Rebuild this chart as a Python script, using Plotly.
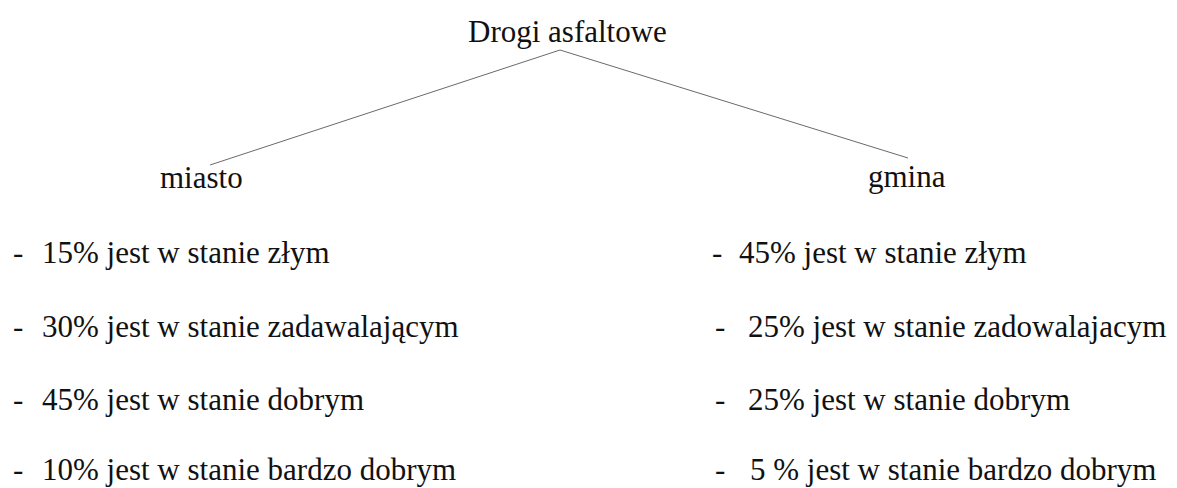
import plotly.graph_objects as go

title = "Drogi asfaltowe"
branches = ["miasto", "gmina"]
conditions_miasto = ["złym", "zadawalającym", "dobrym", "bardzo dobrym"]
conditions_gmina = ["złym", "zadowalajacym", "dobrym", "bardzo dobrym"]
miasto_pct = [15, 30, 45, 10]
gmina_pct = [45, 25, 25, 5]

W, H = 1177, 488
FONT = "Liberation Serif, Times New Roman, serif"
SIZE = 31

fig = go.Figure()

apex = (560, 50)
ends = [(210, 165), (908, 158)]
for e in ends:
    fig.add_trace(go.Scatter(x=[apex[0], e[0]], y=[apex[1], e[1]], mode="lines",
                             line=dict(color="#6a6a6a", width=1), hoverinfo="skip",
                             showlegend=False))


def ann(x, y, text, anchor="left"):
    fig.add_annotation(x=x, y=y, text=text, showarrow=False, xanchor=anchor,
                       yanchor="middle", borderpad=0,
                       font=dict(family=FONT, size=SIZE, color="#111111"))


ann(567, 31.5, title, "center")
ann(159, 177.5, branches[0], "left")
ann(867, 176.5, branches[1], "left")

rows_y = [252.5, 326.5, 399.5, 469.5]
for i, (p, c) in enumerate(zip(miasto_pct, conditions_miasto)):
    ann(12, rows_y[i], "-", "left")
    ann(41, rows_y[i], f"{p}% jest w stanie {c}", "left")

right_dash_x = [711, 714, 714, 714]
right_text_x = [738, 747, 747, 749]
for i, (p, c) in enumerate(zip(gmina_pct, conditions_gmina)):
    ann(right_dash_x[i], rows_y[i], "-", "left")
    txt = f"{p}% jest w stanie {c}" if p >= 10 else f"{p} % jest w stanie {c}"
    ann(right_text_x[i], rows_y[i], txt, "left")

fig.update_layout(width=W, height=H, margin=dict(l=0, r=0, t=0, b=0),
                  paper_bgcolor="white", plot_bgcolor="white",
                  xaxis=dict(range=[0, W], visible=False, fixedrange=True),
                  yaxis=dict(range=[H, 0], visible=False, fixedrange=True))

fig.write_html("out.html", config={"displayModeBar": False},
               post_script="document.body.style.margin='0';document.body.style.overflow='hidden';")
